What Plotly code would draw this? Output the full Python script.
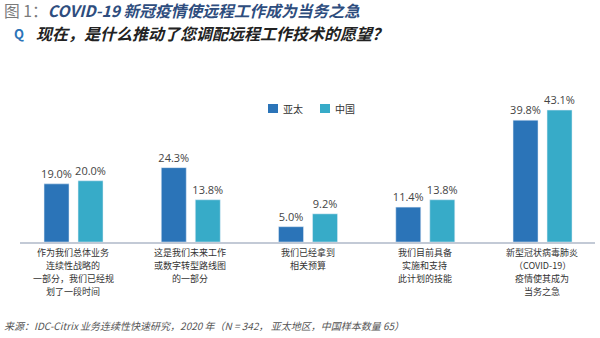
import plotly.graph_objects as go

# ---- data ----
categories = [
    ["作为我们总体业务", "连续性战略的", "一部分，我们已经规", "划了一段时间"],
    ["这是我们未来工作", "或数字转型路线图", "的一部分"],
    ["我们已经拿到", "相关预算"],
    ["我们目前具备", "实施和支持", "此计划的技能"],
    ["新型冠状病毒肺炎", "（COVID-19）", "疫情使其成为", "当务之急"],
]
series_names = ["亚太", "中国"]
apac = [19.0, 24.3, 5.0, 11.4, 39.8]
china = [20.0, 13.8, 9.2, 13.8, 43.1]

C_APAC = "#2b74b8"
C_CHINA = "#37abc8"
FONT = "Noto Sans CJK SC"

W, H = 600, 338
ML, MR, MT, MB = 20, 5, 100, 96
PW = W - ML - MR
PH = H - MT - MB

def px(xp):
    return (xp - ML) / PW

def py(yp):
    return (H - MB - yp) / PH

xs = list(range(len(apac)))

fig = go.Figure()
for vals, name, col, off in [(apac, series_names[0], C_APAC, -0.247),
                             (china, series_names[1], C_CHINA, 0.043)]:
    fig.add_trace(go.Bar(
        x=xs, y=vals, name=name, marker_color=col,
        width=0.213, offset=off,
        texttemplate="%{y:.1f}%", textposition="outside", cliponaxis=False,
        constraintext="none",
        textfont=dict(family="Open Sans", size=11, color="#444"),
        showlegend=False,
    ))

annotations = []
# category labels, one annotation per line
for i, lines in enumerate(categories):
    for j, line in enumerate(lines):
        annotations.append(dict(
            x=i, xref="x", y=py(252.5 + j * 13.1), yref="paper",
            text=line, showarrow=False, xanchor="center", yanchor="middle",
            font=dict(family=FONT, size=9, color="#333"),
        ))

# legend (manual)
shapes = []
leg = [(268, series_names[0], C_APAC), (320, series_names[1], C_CHINA)]
for x0, name, col in leg:
    shapes.append(dict(type="rect", xref="paper", yref="paper",
                       x0=px(x0), x1=px(x0 + 10), y0=py(113), y1=py(104),
                       fillcolor=col, line=dict(width=0)))
    annotations.append(dict(x=px(x0 + 13), xref="paper", y=py(108.5), yref="paper",
                            text=name, showarrow=False, xanchor="left", yanchor="middle",
                            font=dict(family=FONT, size=10, color="#333")))

# titles
annotations.append(dict(
    x=px(2), xref="paper", y=py(10.5), yref="paper", xanchor="left", yanchor="middle",
    showarrow=False,
    text="<span style='color:#7a7a7a'>图 1：</span><b><i>COVID-19 新冠疫情使远程工作成为当务之急</i></b>",
    font=dict(family=FONT, size=15.75, color="#2e4d7e"),
))
annotations.append(dict(
    x=px(12), xref="paper", y=py(33), yref="paper", xanchor="left", yanchor="middle",
    showarrow=False, text="<b>Q</b>",
    font=dict(family=FONT, size=13, color="#2b74b8"),
))
annotations.append(dict(
    x=px(34), xref="paper", y=py(33), yref="paper", xanchor="left", yanchor="middle",
    showarrow=False, text="<b><i>现在，是什么推动了您调配远程工作技术的愿望？</i></b>",
    font=dict(family=FONT, size=16, color="#222"),
))
# source
annotations.append(dict(
    x=px(2), xref="paper", y=py(325), yref="paper", xanchor="left", yanchor="middle",
    showarrow=False,
    text="<i>来源：IDC-Citrix 业务连续性快速研究，2020 年（N = 342， 亚太地区，中国样本数量 65）</i>",
    font=dict(family=FONT, size=10, color="#555"),
))

fig.update_layout(
    width=W, height=H,
    margin=dict(l=ML, r=MR, t=MT, b=MB),
    paper_bgcolor="white", plot_bgcolor="white",
    font=dict(family=FONT),
    barmode="overlay",
    annotations=annotations, shapes=shapes,
    xaxis=dict(range=[-0.452, 4.452], showticklabels=False, showgrid=False,
               zeroline=False, showline=True, linecolor="#c3cad6", linewidth=2,
               ticks="", fixedrange=True),
    yaxis=dict(range=[0, 46.4], visible=False, showgrid=False, zeroline=False,
               fixedrange=True),
)

fig.write_html("out.html")
